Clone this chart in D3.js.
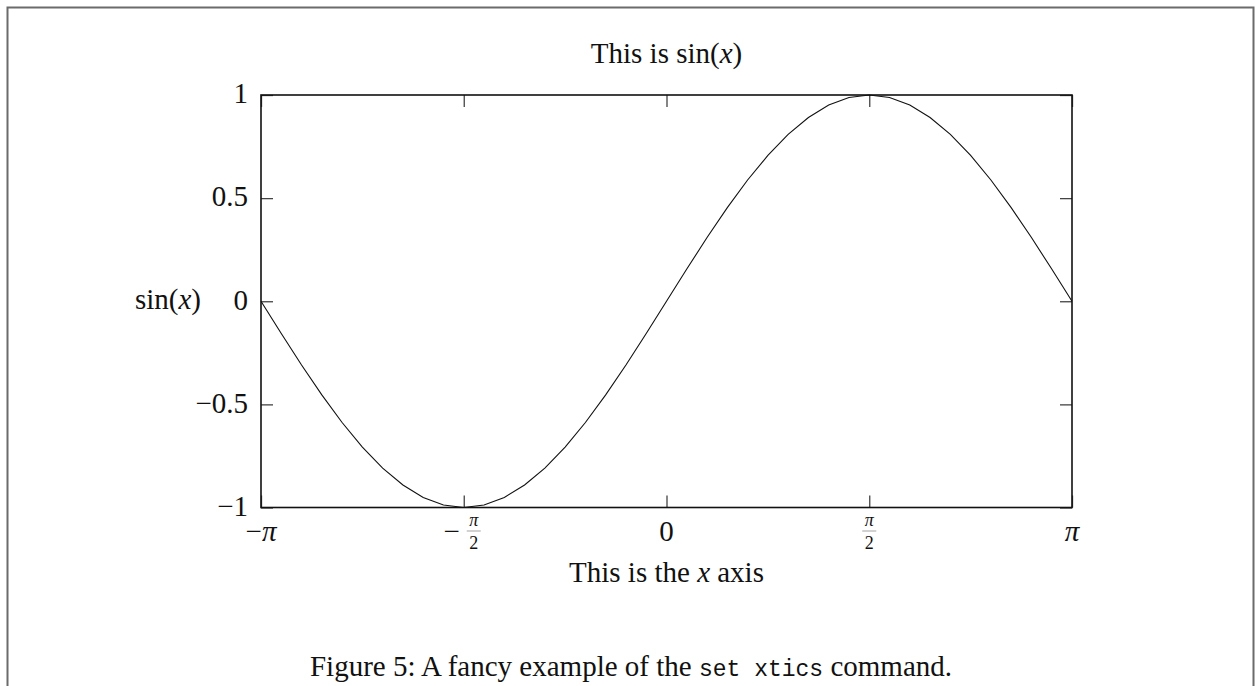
<!DOCTYPE html>
<html>
<head>
	<meta charset="utf-8">
	<script src="https://d3js.org/d3.v7.min.js"></script>
	<title>sin(x) with set xtics</title>
	<style>
		body { margin: 0; background: #fff; }
		text { font-family: "Liberation Serif", "DejaVu Serif", serif; fill: #111; }
	</style>
</head>
<body>
<div id="my_dataviz"></div>

<script>
// tick positions and their labels
var xTickVals = [-Math.PI, -Math.PI / 2, 0, Math.PI / 2, Math.PI];
var xTickLabels = ["−π", "−π/2", "0", "π/2", "π"];
var yTickVals = [-1, -0.5, 0, 0.5, 1];
var yTickLabels = ["−1", "−0.5", "0", "0.5", "1"];

// sampled curve, x given in units of pi
var seriesX = [-1, -0.95, -0.9, -0.85, -0.8, -0.75, -0.7, -0.65, -0.6, -0.55, -0.5,
	-0.45, -0.4, -0.35, -0.3, -0.25, -0.2, -0.15, -0.1, -0.05, 0,
	0.05, 0.1, 0.15, 0.2, 0.25, 0.3, 0.35, 0.4, 0.45, 0.5,
	0.55, 0.6, 0.65, 0.7, 0.75, 0.8, 0.85, 0.9, 0.95, 1];
var seriesY = [0, -0.156, -0.309, -0.454, -0.588, -0.707, -0.809, -0.891, -0.951, -0.988, -1,
	-0.988, -0.951, -0.891, -0.809, -0.707, -0.588, -0.454, -0.309, -0.156, 0,
	0.156, 0.309, 0.454, 0.588, 0.707, 0.809, 0.891, 0.951, 0.988, 1,
	0.988, 0.951, 0.891, 0.809, 0.707, 0.588, 0.454, 0.309, 0.156, 0];

var width = 1255, height = 686;
var plot = {left: 261, right: 1072, top: 95, bottom: 507.5};
var tickLen = 12;
var fs = 29;

var svg = d3.select("#my_dataviz")
  .append("svg")
    .attr("width", width)
    .attr("height", height);

// page frame (open at the bottom)
svg.append("path")
  .attr("d", "M7.5," + height + "V7.5H1253.5V" + height)
  .attr("fill", "none")
  .attr("stroke", "#6b6b6b")
  .attr("stroke-width", 2);

var x = d3.scaleLinear().domain([-Math.PI, Math.PI]).range([plot.left, plot.right]);
var y = d3.scaleLinear().domain([-1, 1]).range([plot.bottom, plot.top]);

// ticks on all four sides, pointing inwards
function styleTicks(g) {
	g.select(".domain").remove();
	g.selectAll(".tick line").attr("stroke", "#444").attr("stroke-width", 1.3);
}

svg.append("g")
  .attr("transform", "translate(0," + plot.bottom + ")")
  .call(d3.axisBottom(x).tickValues(xTickVals).tickSize(-tickLen).tickFormat(function() { return ""; }))
  .call(styleTicks);
svg.append("g")
  .attr("transform", "translate(0," + plot.top + ")")
  .call(d3.axisTop(x).tickValues(xTickVals).tickSize(-tickLen).tickFormat(function() { return ""; }))
  .call(styleTicks);
svg.append("g")
  .attr("transform", "translate(" + plot.right + ",0)")
  .call(d3.axisRight(y).tickValues(yTickVals).tickSize(-tickLen).tickFormat(function() { return ""; }))
  .call(styleTicks);

var yAxis = svg.append("g")
  .attr("transform", "translate(" + plot.left + ",0)")
  .call(d3.axisLeft(y).tickValues(yTickVals).tickSize(-tickLen).tickPadding(14)
    .tickFormat(function(d, i) { return yTickLabels[i]; }))
  .call(styleTicks);
yAxis.selectAll(".tick text")
  .attr("font-size", fs)
  .attr("font-family", "Liberation Serif")
  .attr("fill", "#111")
  .attr("x", -13)
  .attr("dy", "0.27em");

// writes a label, pi in italics like TeX math
function mathText(sel, s) {
	s.split(/(π)/).forEach(function(p) {
		if (!p) return;
		var t = sel.append("tspan").text(p);
		if (p === "π") t.attr("font-style", "italic");
	});
}

// x tick labels, fractions stacked
xTickVals.forEach(function(v, i) {
	var lab = xTickLabels[i];
	var cx = x(v);
	var g = svg.append("g").attr("transform", "translate(" + cx + ",0)");
	if (lab.indexOf("/") < 0) {
		mathText(g.append("text")
		  .attr("text-anchor", "middle")
		  .attr("y", 541)
		  .attr("font-size", fs), lab);
		return;
	}
	var neg = lab[0] === "−";
	var parts = lab.replace("−", "").split("/");
	var off = neg ? 10 : 0;
	if (neg) {
		g.append("text")
		  .attr("text-anchor", "middle")
		  .attr("x", -12)
		  .attr("y", 541)
		  .attr("font-size", fs)
		  .text("−");
	}
	mathText(g.append("text")
	  .attr("text-anchor", "middle")
	  .attr("x", off)
	  .attr("y", 526)
	  .attr("font-size", 18), parts[0]);
	g.append("line")
	  .attr("x1", off - 7).attr("x2", off + 7)
	  .attr("y1", 531).attr("y2", 531)
	  .attr("stroke", "#666")
	  .attr("stroke-width", 0.6);
	g.append("text")
	  .attr("text-anchor", "middle")
	  .attr("x", off)
	  .attr("y", 549)
	  .attr("font-size", 18)
	  .text(parts[1]);
});

// the curve
var line = d3.line()
  .x(function(d) { return x(d[0] * Math.PI); })
  .y(function(d) { return y(d[1]); });
svg.append("path")
  .datum(seriesX.map(function(v, i) { return [v, seriesY[i]]; }))
  .attr("d", line)
  .attr("fill", "none")
  .attr("stroke", "#111")
  .attr("stroke-width", 1.1);

// plot border
svg.append("rect")
  .attr("x", plot.left).attr("y", plot.top)
  .attr("width", plot.right - plot.left)
  .attr("height", plot.bottom - plot.top)
  .attr("fill", "none")
  .attr("stroke", "#111")
  .attr("stroke-width", 1.6);

// title
var title = svg.append("text")
  .attr("x", (plot.left + plot.right) / 2)
  .attr("y", 63)
  .attr("text-anchor", "middle")
  .attr("font-size", fs);
title.append("tspan").text("This is sin(");
title.append("tspan").attr("font-style", "italic").text("x");
title.append("tspan").text(")");

// y label
var ylab = svg.append("text")
  .attr("x", 168)
  .attr("y", 309)
  .attr("text-anchor", "middle")
  .attr("font-size", fs);
ylab.append("tspan").text("sin(");
ylab.append("tspan").attr("font-style", "italic").text("x");
ylab.append("tspan").text(")");

// x label
var xlab = svg.append("text")
  .attr("x", (plot.left + plot.right) / 2)
  .attr("y", 582)
  .attr("text-anchor", "middle")
  .attr("font-size", fs);
xlab.append("tspan").text("This is the ");
xlab.append("tspan").attr("font-style", "italic").text("x");
xlab.append("tspan").text(" axis");

// caption
var cap = svg.append("text")
  .attr("x", 631)
  .attr("y", 676)
  .attr("text-anchor", "middle")
  .attr("font-size", fs);
cap.append("tspan").text("Figure 5: A fancy example of the ");
cap.append("tspan").attr("font-family", "Liberation Mono").attr("font-size", 23).text("set xtics");
cap.append("tspan").text(" command.");
</script>
</body>
</html>
